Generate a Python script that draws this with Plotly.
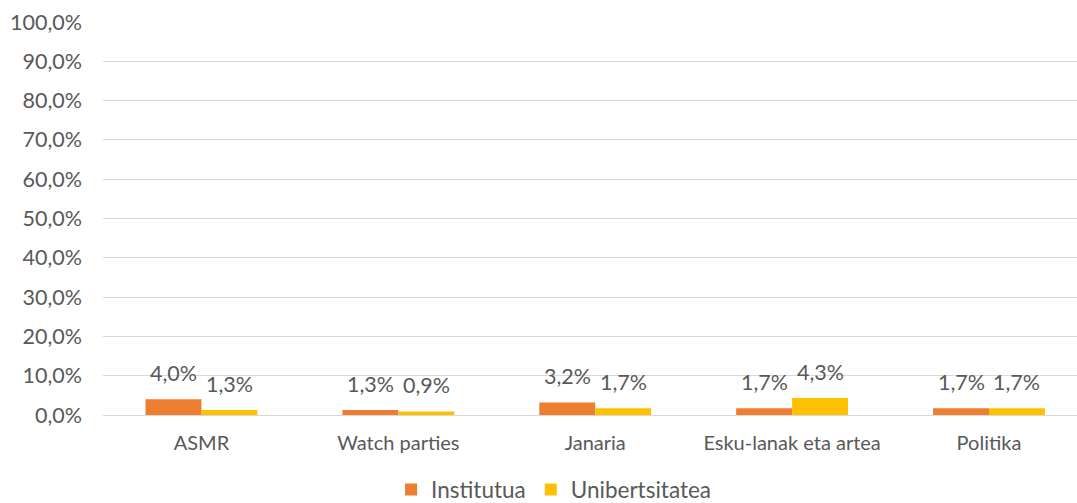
import plotly.graph_objects as go

categories = ["ASMR", "Watch parties", "Janaria", "Esku-lanak eta artea", "Politika"]
institutua = [4.0, 1.3, 3.2, 1.7, 1.7]
unibertsitatea = [1.3, 0.9, 1.7, 4.3, 1.7]
series_names = ["Institutua", "Unibertsitatea"]
series_colors = ["#ED7D31", "#FFC000"]

FONT = "Lato"
GREY = "#595959"
BAR_W = 0.284  # width of one bar in category units


def pct(v):
    return f"{v:.1f}".replace(".", ",") + "%"


fig = go.Figure()
for name, vals, col in zip(series_names, [institutua, unibertsitatea], series_colors):
    fig.add_trace(go.Bar(
        x=list(range(len(categories))), y=vals, name=name,
        marker=dict(color=col, line=dict(width=0)),
        width=BAR_W,
    ))

# value labels above each bar
annotations = []
for k, (vals, sign) in enumerate([(institutua, -1), (unibertsitatea, 1)]):
    for i, v in enumerate(vals):
        annotations.append(dict(
            x=i + sign * BAR_W / 2, y=v, xref="x", yref="y",
            text=pct(v), showarrow=False, yanchor="bottom", yshift=11,
            font=dict(family=FONT, size=21.5, color=GREY),
        ))

fig.update_layout(
    barmode="group",
    bargap=0.432,
    bargroupgap=0,
    width=1077, height=503,
    margin=dict(l=103, r=0, t=22, b=88, autoexpand=False),
    paper_bgcolor="white", plot_bgcolor="white",
    font=dict(family=FONT, color=GREY),
    annotations=annotations,
    showlegend=True,
    legend=dict(orientation="h", xref="container", x=0.514, xanchor="center",
                yref="container", y=0.026, yanchor="middle",
                font=dict(family=FONT, size=22.5, color=GREY),
                itemwidth=30, traceorder="normal"),
    xaxis=dict(
        range=[-0.5, 4.447],
        tickmode="array", tickvals=list(range(len(categories))), ticktext=categories,
        showgrid=False, zeroline=False, showline=False, ticks="",
        tickfont=dict(family=FONT, size=20, color=GREY),
        ticklabelstandoff=14,
    ),
    yaxis=dict(
        range=[0, 100], dtick=10, tickformat=".1f", ticksuffix="%",
        showgrid=True, gridcolor="#D9D9D9", gridwidth=1,
        zeroline=True, zerolinecolor="#D9D9D9", zerolinewidth=1,
        showline=False, ticks="",
        tickfont=dict(family=FONT, size=21.5, color=GREY),
        ticklabelstandoff=20,
    ),
    separators=",.",
)

fig.write_html("out.html")
